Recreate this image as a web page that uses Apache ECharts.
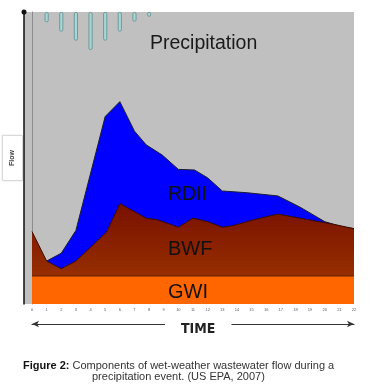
<!DOCTYPE html>
<html><head><meta charset="utf-8">
<script src="https://cdn.jsdelivr.net/npm/echarts@6/dist/echarts.min.js"></script>
<style>html,body{margin:0;padding:0;background:#fff}#c{width:374px;height:391px}</style>
</head><body><div id="c"></div>
<script>
// Time ticks (x axis)
var timeTicks = ['0','1','2','3','4','5','6','7','8','9','10','11','12','13','14','15','16','17','18','19','20','21','22'];
// Total flow (top of RDII)
var rdiiTime  = [1, 2, 3, 5, 6, 7, 7.8, 8.9, 10, 11.1, 12, 13, 14.7, 16.8, 18.3, 20, 21.2, 22];
var rdiiFlow  = [14.7, 17.4, 25.2, 64.2, 69.3, 59.2, 54.5, 51.0, 46.1, 45.9, 43.2, 38.7, 38.1, 37.0, 33.2, 28.2, 26.4, 25.8];
// Base wastewater flow (top of BWF)
var bwfTime   = [0, 1, 2, 3, 5.1, 6, 7.8, 8.6, 10, 11, 12, 13, 13.7, 15.1, 16.8, 18.3, 20.6, 22];
var bwfFlow   = [24.8, 14.7, 12.1, 14.7, 24.7, 34.4, 29.4, 28.8, 26.3, 29.4, 28.2, 26.3, 26.8, 28.8, 30.8, 29.4, 27.3, 25.8];
// Groundwater infiltration
var gwiTime   = [0, 22];
var gwiFlow   = [9.6, 9.6];
// Precipitation (hanging bars)
var rainTime  = [1, 2, 3, 4, 5, 6, 7, 8];
var rainDepth = [3.5, 6.7, 9.8, 13.0, 9.8, 6.7, 3.3, 1.6];

function pairs(xs, ys){ return xs.map(function(x,i){ return [x, ys[i]]; }); }

var chart = echarts.init(document.getElementById('c'), null, {renderer:'canvas'});
var F = 'Liberation Sans, Arial, sans-serif';
chart.setOption({
  animation: false,
  backgroundColor: '#ffffff',
  title: [
    {text:'Precipitation', left:150, top:34, padding:0, textStyle:{fontFamily:F, fontSize:19.5, fontWeight:'normal', color:'#1a1a1a'}},
    {text:'RDII', left:168, top:185, padding:0, textStyle:{fontFamily:F, fontSize:19.5, fontWeight:'normal', color:'#111'}},
    {text:'BWF', left:168, top:239, padding:0, textStyle:{fontFamily:F, fontSize:20, fontWeight:'normal', color:'#111'}},
    {text:'GWI', left:168, top:282, padding:0, textStyle:{fontFamily:F, fontSize:20, fontWeight:'normal', color:'#111'}},
    {text:'TIME', left:165, top:321, padding:[1,16,1,16], backgroundColor:'#fff',
     textStyle:{fontFamily:'Liberation Sans Narrow, DejaVu Sans Condensed, sans-serif', fontWeight:'bold', fontSize:14, color:'#222'}},
    {text:'{b|Figure 2:} Components of wet-weather wastewater flow during a', left:23, top:360, padding:0,
     textStyle:{fontFamily:F, fontSize:11, fontWeight:'normal', color:'#333', rich:{b:{fontFamily:F, fontSize:11, fontWeight:'bold', color:'#111'}}}},
    {text:'precipitation event. (US EPA, 2007)', left:92, top:371, padding:0,
     textStyle:{fontFamily:F, fontSize:11, fontWeight:'normal', color:'#333'}}
  ],
  grid: [
    {left:24, top:12, width:330, height:292, show:true, backgroundColor:'#c0c0c0', borderWidth:0, containLabel:false, outerBoundsMode:'none'},
    {left:32, top:12, width:322, height:292, containLabel:false, outerBoundsMode:'none'}
  ],
  xAxis: [
    {type:'value', gridIndex:0, min:0, max:1, show:false},
    {type:'value', gridIndex:1, min:0, max:22, interval:1,
     axisLine:{show:false, onZero:false}, axisTick:{show:false}, splitLine:{show:false},
     axisLabel:{show:true, fontSize:4, color:'#556', margin:4, fontFamily:F,
       formatter:function(v){ return timeTicks[Math.round(v)]; }}},
    {type:'value', gridIndex:1, min:0, max:22, position:'bottom', offset:20,
     axisLine:{show:true, onZero:false, symbol:['arrow','arrow'], symbolSize:[5,7], lineStyle:{color:'#333', width:1}},
     axisTick:{show:false}, axisLabel:{show:false}, splitLine:{show:false}}
  ],
  yAxis: [
    {type:'value', gridIndex:0, min:0, max:1,
     axisLine:{show:true, onZero:false, symbol:['none','circle'], symbolSize:[5,5], lineStyle:{color:'#111', width:1.5}},
     axisTick:{show:false}, axisLabel:{show:false}, splitLine:{show:false},
     name:'Flow', nameLocation:'middle', nameRotate:90, nameGap:2,
     nameTextStyle:{fontFamily:F, fontWeight:'bold', fontSize:7, color:'#444', backgroundColor:'#fff',
       borderColor:'#e2e2e2', borderWidth:1, padding:[6,14,6,14],
       shadowColor:'rgba(0,0,0,0.12)', shadowBlur:2}},
    {type:'value', gridIndex:1, min:0, max:100,
     axisLine:{show:true, onZero:false, lineStyle:{color:'#8c8c8c', width:1}},
     axisTick:{show:false}, axisLabel:{show:false}, splitLine:{show:false}},
    {type:'value', gridIndex:1, min:0, max:100, inverse:true, show:false}
  ],
  series: [
    {type:'line', name:'RDII', xAxisIndex:1, yAxisIndex:1, data:pairs(rdiiTime, rdiiFlow),
     symbol:'none', lineStyle:{color:'#1a1a33', width:1}, areaStyle:{color:'#0000ff', opacity:1}, z:2},
    {type:'line', name:'BWF', xAxisIndex:1, yAxisIndex:1, data:pairs(bwfTime, bwfFlow),
     symbol:'none', lineStyle:{color:'#3a0c00', width:1},
     areaStyle:{opacity:1, color:new echarts.graphic.LinearGradient(0,0,0,1,[{offset:0,color:'#781000'},{offset:1,color:'#a23a00'}])}, z:3},
    {type:'line', name:'GWI', xAxisIndex:1, yAxisIndex:1, data:pairs(gwiTime, gwiFlow),
     symbol:'none', lineStyle:{color:'#5a2000', width:1}, areaStyle:{color:'#ff6600', opacity:1}, z:4},
    {type:'bar', name:'Precipitation', xAxisIndex:1, yAxisIndex:2, data:pairs(rainTime, rainDepth),
     barWidth:4, itemStyle:{color:'#a6d6d6', borderColor:'#5e8e8e', borderWidth:0.8, borderRadius:1.5}, z:5}
  ]
});
</script></body></html>
